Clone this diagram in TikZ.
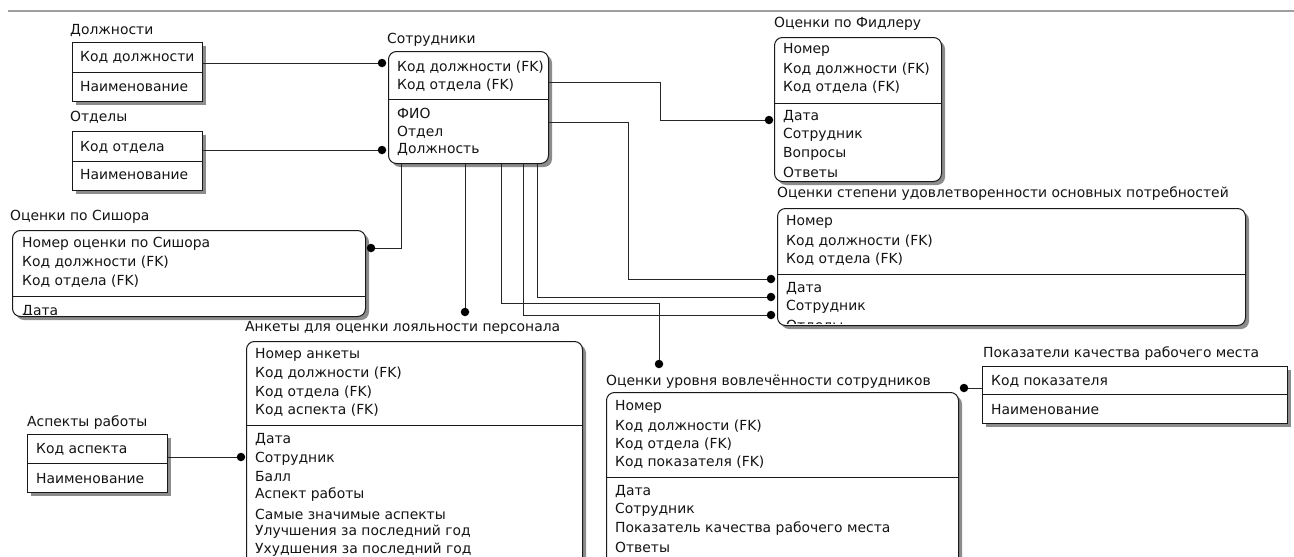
\documentclass[tikz,border=0pt]{standalone}
\usepackage{fontspec}
\setmainfont{DejaVu Sans}
\usetikzlibrary{shadows,calc}
\begin{document}
\begin{tikzpicture}[x=1pt,y=-1pt,
  ent/.style={draw=black!90, line width=1pt, fill=white, inner sep=0pt, anchor=north west,
    drop shadow={shadow xshift=3.5pt, shadow yshift=-3.5pt, fill=black!45, opacity=1}},
  dent/.style={ent, rounded corners=8pt},
  ttl/.style={anchor=west, inner sep=0pt, font=\fontsize{13.9}{16}\selectfont, text=black!92},
  row/.style={ttl},
  div/.style={draw=black!90, line width=1pt},
  rel/.style={draw=black!85, line width=1pt},
  dot/.style={circle, fill=black, inner sep=0pt, minimum size=8.5pt},
]
\useasboundingbox (0,0) rectangle (1294,557);
\clip (0,0) rectangle (1294,557);
\fill[white] (0,0) rectangle (1294,557);
\draw[gray!75, line width=2pt] (8,11) -- (1294,11);

% ---------- boxes ----------
\node[ent, minimum width=130pt, minimum height=59pt] (dolzh) at (72,42) {};
\node[ent, minimum width=130pt, minimum height=59pt] (otd) at (72,131) {};
\node[dent, minimum width=160pt, minimum height=112pt] (sotr) at (388,51) {};
\node[dent, minimum width=167pt, minimum height=144pt] (fid) at (774,37) {};
\node[dent, minimum width=468pt, minimum height=117pt] (step) at (777,208) {};
\node[dent, minimum width=353pt, minimum height=86pt] (sish) at (12,230) {};
\node[dent, minimum width=336pt, minimum height=240pt] (ank) at (246,341) {};
\node[dent, minimum width=352pt, minimum height=190pt] (vovl) at (606,392) {};
\node[ent, minimum width=140pt, minimum height=58pt] (asp) at (27,434) {};
\node[ent, minimum width=305pt, minimum height=57pt] (pok) at (982,366) {};

% dividers
\draw[div] (72,72) -- (202,72);
\draw[div] (72,161) -- (202,161);
\draw[div] (388,99) -- (548,99);
\draw[div] (774,103) -- (941,103);
\draw[div] (777,274) -- (1245,274);
\draw[div] (12,296) -- (365,296);
\draw[div] (246,425) -- (582,425);
\draw[div] (606,477) -- (958,477);
\draw[div] (27,463) -- (167,463);
\draw[div] (982,394) -- (1287,394);

% ---------- titles ----------
\node[ttl] (dolzh-t) at (70,31) {Должности};
\node[ttl] (otd-t) at (70,117) {Отделы};
\node[ttl] (sotr-t) at (387,40) {Сотрудники};
\node[ttl] (fid-t) at (774,24) {Оценки по Фидлеру};
\node[ttl] (step-t) at (777,194) {Оценки степени удовлетворенности основных потребностей};
\node[ttl] (sish-t) at (10,217) {Оценки по Сишора};
\node[ttl] (ank-t) at (245,328) {Анкеты для оценки лояльности персонала};
\node[ttl] (vovl-t) at (606,382) {Оценки уровня вовлечённости сотрудников};
\node[ttl] (asp-t) at (27,423) {Аспекты работы};
\node[ttl] (pok-t) at (983,354) {Показатели качества рабочего места};

% ---------- rows ----------
\node[row] (dolzh-1) at (80,57) {Код должности};
\node[row] (dolzh-2) at (80,87) {Наименование};
\node[row] (otd-1) at (80,147) {Код отдела};
\node[row] (otd-2) at (80,175) {Наименование};

\node[row] (sotr-1) at (397,67) {Код должности (FK)};
\node[row] (sotr-2) at (397,85) {Код отдела (FK)};
\node[row] (sotr-3) at (397,113) {ФИО};
\node[row] (sotr-4) at (397,132) {Отдел};
\node[row] (sotr-5) at (397,150) {Должность};

\node[row] (fid-1) at (783,50) {Номер};
\node[row] (fid-2) at (783,69) {Код должности (FK)};
\node[row] (fid-3) at (783,87) {Код отдела (FK)};
\node[row] (fid-4) at (783,117) {Дата};
\node[row] (fid-5) at (783,135) {Сотрудник};
\node[row] (fid-6) at (783,154) {Вопросы};
\node[row] (fid-7) at (783,172) {Ответы};

\begin{scope}
\clip (777,208) rectangle (1245,323.5);
\node[row] (step-1) at (786,222) {Номер};
\node[row] (step-2) at (786,241) {Код должности (FK)};
\node[row] (step-3) at (786,259) {Код отдела (FK)};
\node[row] (step-4) at (786,289) {Дата};
\node[row] (step-5) at (786,307) {Сотрудник};
\node[row] (step-6) at (786,326) {Отделы};
\end{scope}

\begin{scope}
\clip (12,230) rectangle (365,314.5);
\node[row] (sish-1) at (22,244) {Номер оценки по Сишора};
\node[row] (sish-2) at (22,262) {Код должности (FK)};
\node[row] (sish-3) at (22,281) {Код отдела (FK)};
\node[row] (sish-4) at (22,312) {Дата};
\end{scope}

\node[row] (ank-1) at (255,355) {Номер анкеты};
\node[row] (ank-2) at (255,373) {Код должности (FK)};
\node[row] (ank-3) at (255,392) {Код отдела (FK)};
\node[row] (ank-4) at (255,410) {Код аспекта (FK)};
\node[row] (ank-5) at (255,440) {Дата};
\node[row] (ank-6) at (255,459) {Сотрудник};
\node[row] (ank-7) at (255,477) {Балл};
\node[row] (ank-8) at (255,495) {Аспект работы};
\node[row] (ank-9) at (255,514) {Самые значимые аспекты};
\node[row] (ank-10) at (255,532) {Улучшения за последний год};
\node[row] (ank-11) at (255,550) {Ухудшения за последний год};

\node[row] (vovl-1) at (615,407) {Номер};
\node[row] (vovl-2) at (615,426) {Код должности (FK)};
\node[row] (vovl-3) at (615,444) {Код отдела (FK)};
\node[row] (vovl-4) at (615,462) {Код показателя (FK)};
\node[row] (vovl-5) at (615,492) {Дата};
\node[row] (vovl-6) at (615,510) {Сотрудник};
\node[row] (vovl-7) at (615,529) {Показатель качества рабочего места};
\node[row] (vovl-8) at (615,547) {Ответы};

\node[row] (asp-1) at (36,449) {Код аспекта};
\node[row] (asp-2) at (36,479) {Наименование};

\node[row] (pok-1) at (991,381) {Код показателя};
\node[row] (pok-2) at (991,410) {Наименование};

% ---------- dots ----------
\node[dot] (p1) at (382,63) {};
\node[dot] (p2) at (382,150) {};
\node[dot] (p3) at (769,120) {};
\node[dot] (p4) at (771,279) {};
\node[dot] (p5) at (371,248) {};
\node[dot] (p6) at (465,312) {};
\node[dot] (p7) at (659,364) {};
\node[dot] (p8) at (771,315) {};
\node[dot] (p9) at (771,297) {};
\node[dot] (p10) at (241,457) {};
\node[dot] (p11) at (964,388) {};

% ---------- connectors ----------
\draw[rel] (dolzh.east |- p1) -- (p1);
\draw[rel] (otd.east |- p2) -- (p2);
\draw[rel] ($(sotr.north east)+(0,31)$) -| ($(p3)+(-109,0)$) -- (p3);
\draw[rel] ($(sotr.north east)+(0,71)$) -| ($(p4)+(-143,0)$) -- (p4);
\draw[rel] ($(sotr.south west)+(13,0)$) |- (p5);
\draw[rel] ($(sotr.south west)+(77,0)$) -- (p6);
\draw[rel] ($(sotr.south west)+(113,0)$) |- ($(p7)+(0,-61)$) -- (p7);
\draw[rel] ($(sotr.south west)+(135,0)$) |- (p8);
\draw[rel] ($(sotr.south west)+(149,0)$) |- (p9);
\draw[rel] (asp.east |- p10) -- (p10);
\draw[rel] (pok.west |- p11) -- (p11);
\end{tikzpicture}
\end{document}
